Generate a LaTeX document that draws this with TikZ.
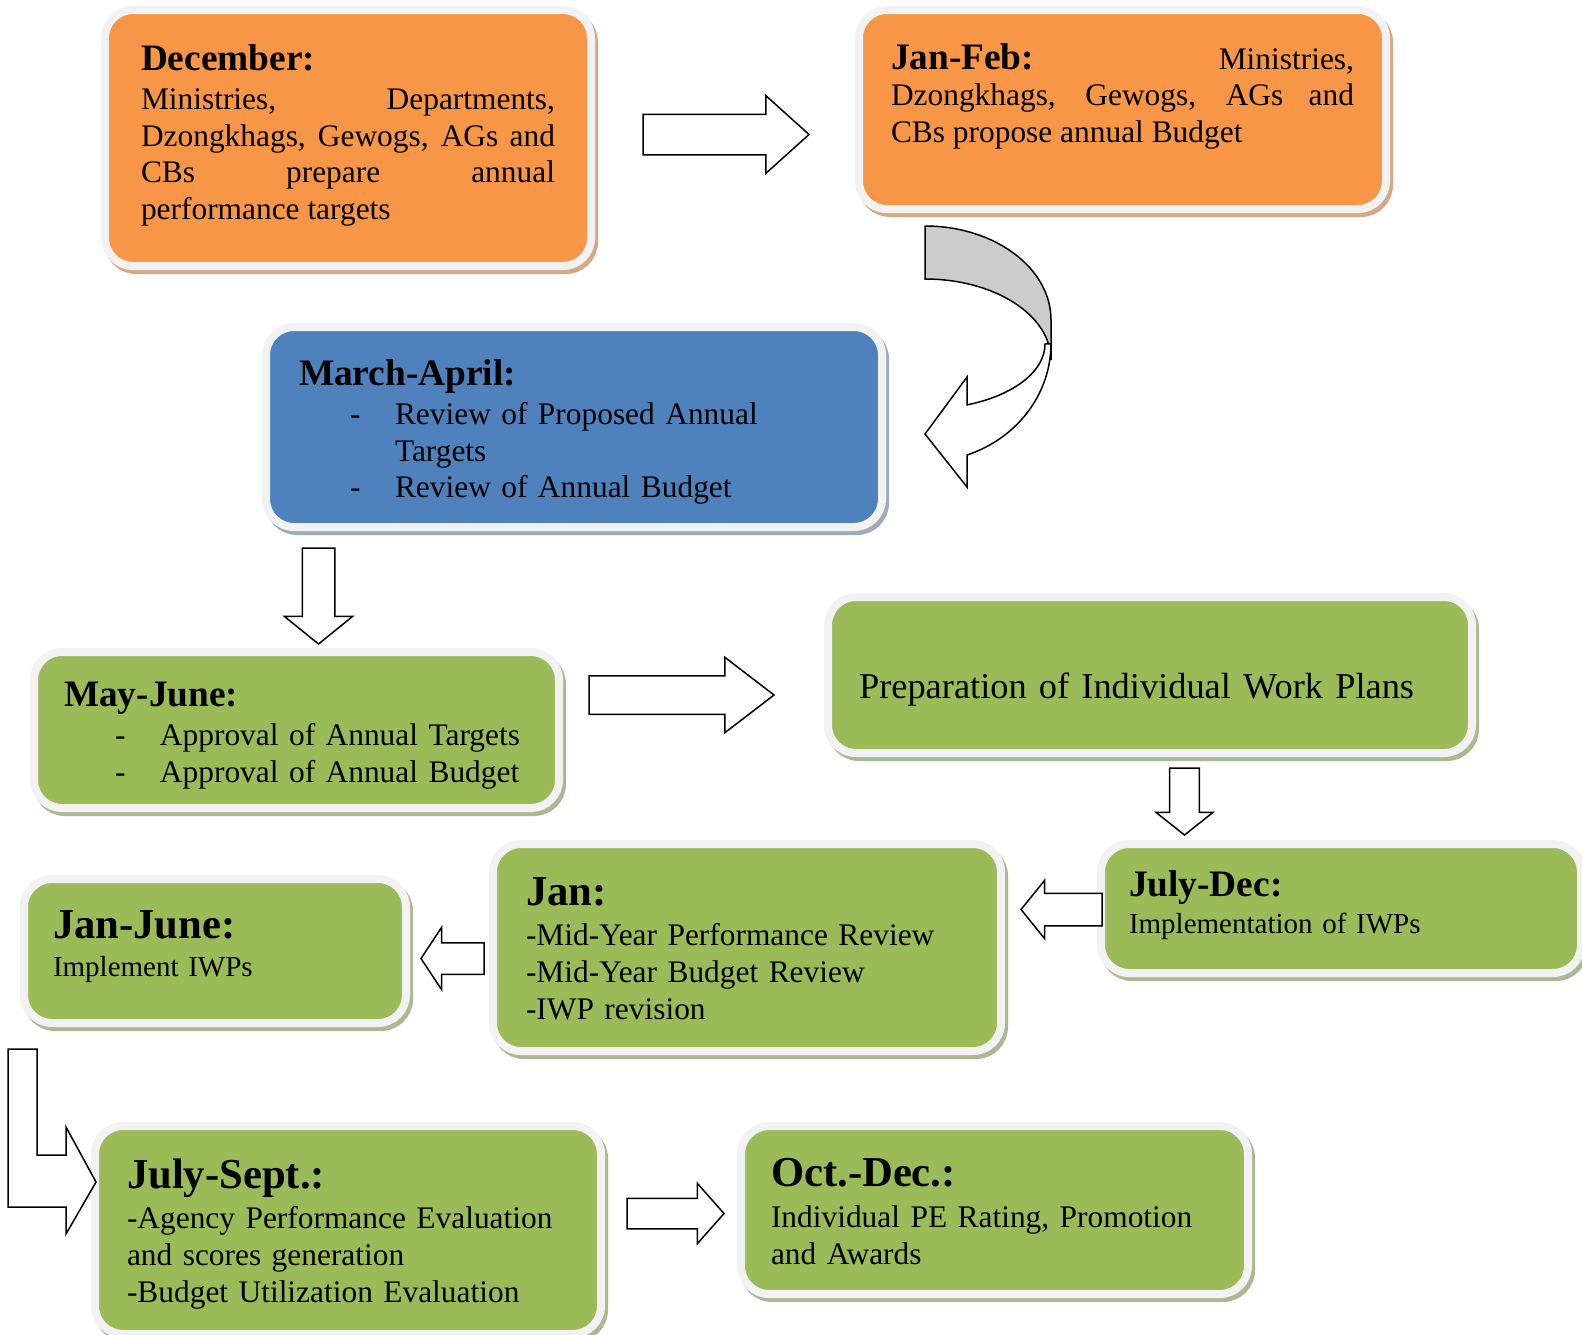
\documentclass[tikz,border=0pt]{standalone}
\usepackage{fontspec}
\setmainfont{Liberation Serif}
\usepackage{tikz}
\usetikzlibrary{shapes.arrows,shadows}

\definecolor{stageorange}{HTML}{F79646}
\definecolor{stageblue}{HTML}{4F81BD}
\definecolor{stagegreen}{HTML}{9BBB59}
\definecolor{stageedge}{HTML}{F2F2F2}
\definecolor{shadeorange}{RGB}{214,168,135}
\definecolor{shadeblue}{RGB}{160,170,186}
\definecolor{shadegreen}{RGB}{172,184,145}

\newcommand{\headA}{\fontsize{18.67}{18.4}\selectfont\bfseries}
\newcommand{\headB}{\fontsize{21.33}{18.4}\selectfont\bfseries}
\newcommand{\dashitem}{\hspace*{25.5pt}\makebox[22.5pt][l]{-}}

\begin{document}
\begin{tikzpicture}[x=0.5pt, y=-0.5pt]
   \tikzstyle{stage}=[draw=stageedge, line width=4pt, rounded corners=14pt, anchor=north west, outer sep=0pt, inner ysep=0pt, align=left, font=\fontsize{15.7}{18.4}\selectfont]
   \tikzstyle{stage orange}=[stage, fill=stageorange, general shadow={draw=shadeorange, fill=shadeorange, line width=4pt, shadow xshift=1.5pt, shadow yshift=-2pt}]
   \tikzstyle{stage blue}=[stage, fill=stageblue, general shadow={draw=shadeblue, fill=shadeblue, line width=4pt, shadow xshift=1.5pt, shadow yshift=-2pt}]
   \tikzstyle{stage green}=[stage, fill=stagegreen, general shadow={draw=shadegreen, fill=shadegreen, line width=4pt, shadow xshift=1.5pt, shadow yshift=-2pt}]
   \tikzstyle{small body}=[font=\fontsize{14.5}{16.9}\selectfont]
   \tikzstyle{block arrow}=[single arrow, draw, fill=white, line width=0.75pt, outer sep=0pt, anchor=tail]
   \tikzstyle{bent arrow}=[draw, line width=0.75pt, line join=miter]

\useasboundingbox (0,0) rectangle (1582,1334);

\node[stage orange, inner xsep=18pt, text width=207pt, text height=30pt, text depth=98pt, align=justify] (dec) at (105,10)
    {{\headA December:}\\[1.2pt] Ministries, Departments,\linebreak Dzongkhags, Gewogs, AGs and\linebreak CBs prepare annual\linebreak performance targets};
\node[stage orange, inner xsep=16pt, text width=231.5pt, text height=29.5pt, text depth=70pt, align=justify] (janfeb) at (859,10)
    {{\headA Jan-Feb:} Ministries,\linebreak Dzongkhags, Gewogs, AGs and\linebreak CBs propose annual Budget};
\node[stage blue, inner xsep=16.5pt, text width=275pt, text height=29pt, text depth=71pt] (marapr) at (266,327)
    {{\headA March-April:}\\[1.2pt] \dashitem Review of Proposed Annual\\ \hspace*{48pt}Targets\\ \dashitem Review of Annual Budget};
\node[stage green, inner xsep=15pt, text width=232.5pt, text height=27pt, text depth=51pt] (mayjun) at (34,652)
    {{\headA May-June:}\\[1.5pt] \dashitem Approval of Annual Targets\\ \dashitem Approval of Annual Budget};
\node[stage green, inner xsep=15.5pt, text width=291pt, text height=50.5pt, text depth=27.5pt, font=\fontsize{18.2}{21.5}\selectfont] (iwp) at (828,597)
    {Preparation of Individual Work Plans};
\node[stage green, small body, inner xsep=14pt, text width=212pt, text height=26pt, text depth=38.5pt] (juldec) at (1101,844)
    {{\headA July-Dec:}\\[2pt] Implementation of IWPs};
\node[stage green, inner xsep=16.5pt, text width=221pt, text height=30.5pt, text depth=73pt] (jan) at (493,844)
    {{\headB Jan:}\\[2pt] -Mid-Year Performance Review\\ -Mid-Year Budget Review\\ -IWP revision};
\node[stage green, small body, inner xsep=14.5pt, text width=162pt, text height=29.5pt, text depth=42.5pt] (janjun) at (24,879)
    {{\headB Jan-June:}\\[2.5pt] Implement IWPs};
\node[stage green, inner xsep=16pt, text width=221pt, text height=31pt, text depth=73pt] (julsep) at (95,1126)
    {{\headB July-Sept.:}\\[2pt] -Agency Performance Evaluation\\ and scores generation\\ -Budget Utilization Evaluation};
\node[stage green, inner xsep=15pt, text width=223.5pt, text height=30pt, text depth=54pt] (octdec) at (741,1126)
    {{\headB Oct.-Dec.:}\\[2.5pt] Individual PE Rating, Promotion\\ and Awards};

\node[block arrow, inner sep=9.75pt, minimum height=83pt, single arrow head extend=9.25pt, single arrow tip angle=84] (dec-janfeb) at (643,134.5) {};
\node[block arrow, inner sep=7.75pt, minimum height=48pt, single arrow head extend=9pt, single arrow tip angle=102, shape border rotate=270] (marapr-mayjun) at (318.5,548) {};
\node[block arrow, inner sep=9.25pt, minimum height=92.5pt, single arrow head extend=9.25pt, single arrow tip angle=75] (mayjun-iwp) at (589,695) {};
\node[block arrow, inner sep=7.1pt, minimum height=33.5pt, single arrow head extend=6.75pt, single arrow tip angle=103, shape border rotate=270] (iwp-juldec) at (1184.5,768) {};
\node[block arrow, inner sep=7.75pt, minimum height=40.5pt, single arrow head extend=6.5pt, single arrow tip angle=102, shape border rotate=180] (juldec-jan) at (1102,909.5) {};
\node[block arrow, inner sep=7.5pt, minimum height=31.5pt, single arrow head extend=7.75pt, single arrow tip angle=113, shape border rotate=180] (jan-janjun) at (484,958.5) {};
\node[block arrow, inner sep=7.25pt, minimum height=48.5pt, single arrow head extend=7.5pt, single arrow tip angle=97] (julsep-octdec) at (627,1213.5) {};

% curved arrow from Jan-Feb down to March-April
\draw[bent arrow, fill=gray!40] (925,226) arc[start angle=90, end angle=0, x radius=63pt, y radius=47pt] -- (1051,360)
    arc[start angle=0, end angle=90, x radius=63pt, y radius=40.5pt] -- cycle;
\draw[bent arrow, fill=white] (1045,344) arc[start angle=0, end angle=-69.5, x radius=60pt, y radius=32.5pt]
    -- (967,377) -- (925,434) -- (967,487) -- (967,455)
    arc[start angle=-70.5, end angle=0, x radius=63pt, y radius=59pt] -- cycle;

% bent arrow from Jan-June down to July-Sept.
\draw[bent arrow, fill=white] (8,1049) -- (37,1049) -- (37,1155) -- (66,1155) -- (66,1127) -- (96,1182)
    -- (66,1234) -- (66,1207) -- (8,1207) -- cycle;

\end{tikzpicture}
\end{document}
